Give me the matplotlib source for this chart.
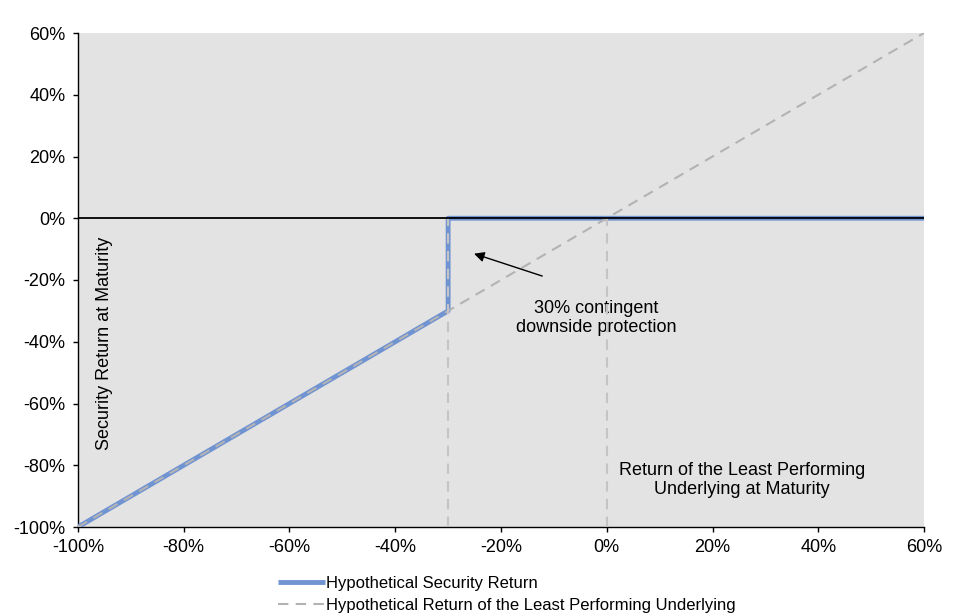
import matplotlib
matplotlib.use("Agg")
import matplotlib.pyplot as plt
from matplotlib.ticker import FuncFormatter

# Data
underlying_x = [-100, 60]
underlying_y = [-100, 60]
security_x = [-100, -30, -30, 60]
security_y = [-100, -30, 0, 0]
barrier = -30
ref_guides_x = [-30, 0]
x_ticks = [-100, -80, -60, -40, -20, 0, 20, 40, 60]
y_ticks = [-100, -80, -60, -40, -20, 0, 20, 40, 60]

plt.rcParams['font.family'] = ['Liberation Sans', 'DejaVu Sans']
plt.rcParams['font.size'] = 13

fig = plt.figure(figsize=(9.76, 6.14), dpi=100)
ax = fig.add_axes([78/976, 1-527/614, (924-78)/976, (527-33)/614])
ax.set_facecolor('#e3e3e3')

ax.plot(security_x, security_y, color='#7093d2', lw=3.5, solid_capstyle='butt', zorder=3,
        label='Hypothetical Security Return')
ax.plot(underlying_x, underlying_y, color='#b3b3b3', lw=1.5, ls=(0, (5, 3.5)), zorder=4,
        label='Hypothetical Return of the Least Performing Underlying')
for gx in ref_guides_x:
    ax.plot([gx, gx], [-100, 0], color='#c4c4c4', lw=1.5, ls=(0, (5, 3.5)), zorder=4)
ax.axhline(0, color='black', lw=1.3, zorder=5)

ax.set_xlim(-100, 60)
ax.set_ylim(-100, 60)
ax.set_xticks(x_ticks)
ax.set_yticks(y_ticks)
fmt = FuncFormatter(lambda v, p: f"{int(round(v))}%")
ax.xaxis.set_major_formatter(fmt)
ax.yaxis.set_major_formatter(fmt)
ax.tick_params(direction='out', length=3.6, width=1, colors='black', labelsize=13)
ax.tick_params(axis='y', pad=5.5)
ax.tick_params(axis='x', pad=5)
for s in ['top', 'right']:
    ax.spines[s].set_visible(False)
for s in ['left', 'bottom']:
    ax.spines[s].set_color('black')
    ax.spines[s].set_linewidth(1)

ax.annotate('', xy=(-25.6, -11.2), xytext=(-11.7, -19.0),
            arrowprops=dict(arrowstyle='-|>', color='black', lw=1, mutation_scale=15), zorder=6)
ax.text(-2.0, -32.3, '30% contingent\ndownside protection', ha='center', va='center',
        fontsize=13, linespacing=1.2)
ax.text(25.6, -84.8, 'Return of the Least Performing\nUnderlying at Maturity', ha='center', va='center',
        fontsize=13, linespacing=1.2)
ax.text(-94.9, -40.4, 'Security Return at Maturity', rotation=90, ha='center', va='center', fontsize=13)

fig.legend(loc='upper left', bbox_to_anchor=(278/976, 1-576/614), frameon=False,
           handlelength=2.8, handletextpad=0.1, labelspacing=0.4, fontsize=12, borderpad=0,
           borderaxespad=0)

fig.savefig('out.png', dpi=100)
